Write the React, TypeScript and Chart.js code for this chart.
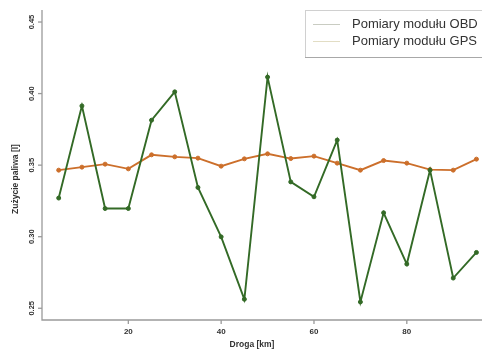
import React, { useEffect, useRef } from "react";
import { Chart, registerables } from "chart.js";

Chart.register(...registerables);

const distanceKm = [5, 10, 15, 20, 25, 30, 35, 40, 45, 50, 55, 60, 65, 70, 75, 80, 85, 90, 95];
const obdValues = [0.327, 0.3914, 0.3197, 0.3197, 0.3814, 0.4012, 0.3344, 0.2999, 0.2563, 0.4115, 0.3383, 0.3279, 0.3675, 0.2544, 0.3167, 0.2809, 0.3465, 0.2711, 0.289];
const gpsValues = [0.3465, 0.3486, 0.3507, 0.3474, 0.3572, 0.3558, 0.3549, 0.3493, 0.3544, 0.3579, 0.3546, 0.3563, 0.3514, 0.3465, 0.3532, 0.3514, 0.3469, 0.3465, 0.3542];
const seriesNames = ["Pomiary modułu OBD", "Pomiary modułu GPS"];
const yTicks = [0.25, 0.3, 0.35, 0.4, 0.45];
const yTickLabels = ["0.25", "0.30", "0.35", "0.40", "0.45"];
const xTicks = [20, 40, 60, 80];
const xTickLabels = ["20", "40", "60", "80"];
const xTitle = "Droga [km]";
const yTitle = "Zużycie paliwa [l]";

const GREEN = "#336a26";
const ORANGE = "#cc6f2b";
const FONT = "'Liberation Sans', Arial, sans-serif";

const axesPlugin = {
  id: "rAxes",
  afterDraw(chart: any) {
    const ctx = chart.ctx as CanvasRenderingContext2D;
    const area = chart.chartArea;
    const xs = chart.scales.x;
    const ys = chart.scales.y;
    ctx.save();
    // L-shaped box
    ctx.strokeStyle = "#9a9a9a";
    ctx.lineWidth = 1.3;
    ctx.beginPath();
    ctx.moveTo(area.left, area.top);
    ctx.lineTo(area.left, area.bottom);
    ctx.lineTo(area.right, area.bottom);
    ctx.stroke();
    // y ticks
    ctx.fillStyle = "#333";
    ctx.font = `bold 7.5px ${FONT}`;
    yTicks.forEach((v, i) => {
      const py = ys.getPixelForValue(v);
      ctx.beginPath();
      ctx.moveTo(area.left, py);
      ctx.lineTo(area.left - 4, py);
      ctx.stroke();
      ctx.save();
      ctx.translate(area.left - 8.5, py);
      ctx.rotate(-Math.PI / 2);
      ctx.textAlign = "center";
      ctx.textBaseline = "alphabetic";
      ctx.fillText(yTickLabels[i], 0, 0);
      ctx.restore();
    });
    // x ticks
    ctx.font = `bold 8px ${FONT}`;
    xTicks.forEach((v, i) => {
      const px = xs.getPixelForValue(v);
      ctx.beginPath();
      ctx.moveTo(px, area.bottom);
      ctx.lineTo(px, area.bottom + 4);
      ctx.stroke();
      ctx.textAlign = "center";
      ctx.textBaseline = "alphabetic";
      ctx.fillText(xTickLabels[i], px, area.bottom + 14);
    });
    // titles
    ctx.font = `bold 8.5px ${FONT}`;
    ctx.textAlign = "center";
    ctx.fillText(xTitle, 252, 347);
    ctx.save();
    ctx.translate(18, 179);
    ctx.rotate(-Math.PI / 2);
    ctx.fillText(yTitle, 0, 0);
    ctx.restore();
    // legend
    ctx.fillStyle = "#ffffff";
    ctx.fillRect(305, 10, 190, 47);
    ctx.strokeStyle = "#d0d0d0";
    ctx.lineWidth = 1;
    ctx.strokeRect(305.5, 10.5, 190, 47);
    ctx.strokeStyle = "#a8a8a8";
    ctx.beginPath();
    ctx.moveTo(305, 57.5);
    ctx.lineTo(482, 57.5);
    ctx.stroke();
    const legendColors = ["#c9ccc2", "#e2ddc4"];
    ctx.font = `13px ${FONT}`;
    ctx.textAlign = "left";
    ctx.textBaseline = "middle";
    seriesNames.forEach((name, i) => {
      const ly = 24 + i * 17;
      ctx.strokeStyle = legendColors[i];
      ctx.lineWidth = 1;
      ctx.beginPath();
      ctx.moveTo(313, ly + 0.5);
      ctx.lineTo(340, ly + 0.5);
      ctx.stroke();
      ctx.fillStyle = "#333";
      ctx.fillText(name, 352, ly);
    });
    ctx.restore();
  },
};

export default function App() {
  const canvasRef = useRef<HTMLCanvasElement | null>(null);
  useEffect(() => {
    const canvas = canvasRef.current;
    if (!canvas) return;
    const chart = new Chart(canvas, {
      type: "line",
      data: {
        datasets: [
          {
            label: seriesNames[0],
            data: distanceKm.map((d, i) => ({ x: d, y: obdValues[i] })),
            borderColor: GREEN,
            backgroundColor: GREEN,
            pointBackgroundColor: GREEN,
            pointBorderColor: GREEN,
            borderWidth: 1.9,
            pointRadius: 2,
            pointBorderWidth: 1,
            tension: 0,
            clip: false as any,
          },
          {
            label: seriesNames[1],
            data: distanceKm.map((d, i) => ({ x: d, y: gpsValues[i] })),
            borderColor: ORANGE,
            backgroundColor: ORANGE,
            pointBackgroundColor: ORANGE,
            pointBorderColor: ORANGE,
            borderWidth: 1.9,
            pointRadius: 2,
            pointBorderWidth: 1,
            tension: 0,
            clip: false as any,
          },
        ],
      },
      options: {
        responsive: false,
        animation: false,
        devicePixelRatio: 1,
        layout: { autoPadding: false, padding: { left: 42, top: 10, right: 0, bottom: 29 } },
        plugins: { legend: { display: false }, tooltip: { enabled: false } },
        events: [],
        scales: {
          x: { type: "linear", min: 1.4, max: 96.2, display: false },
          y: { type: "linear", min: 0.2418, max: 0.4584, display: false },
        },
      },
      plugins: [axesPlugin],
    });
    return () => chart.destroy();
  }, []);
  return (
    <div style={{ position: "fixed", left: 0, top: 0, width: 482, height: 349, background: "#fff" }}>
      <canvas ref={canvasRef} width={482} height={349} style={{ display: "block", width: 482, height: 349 }} />
    </div>
  );
}
